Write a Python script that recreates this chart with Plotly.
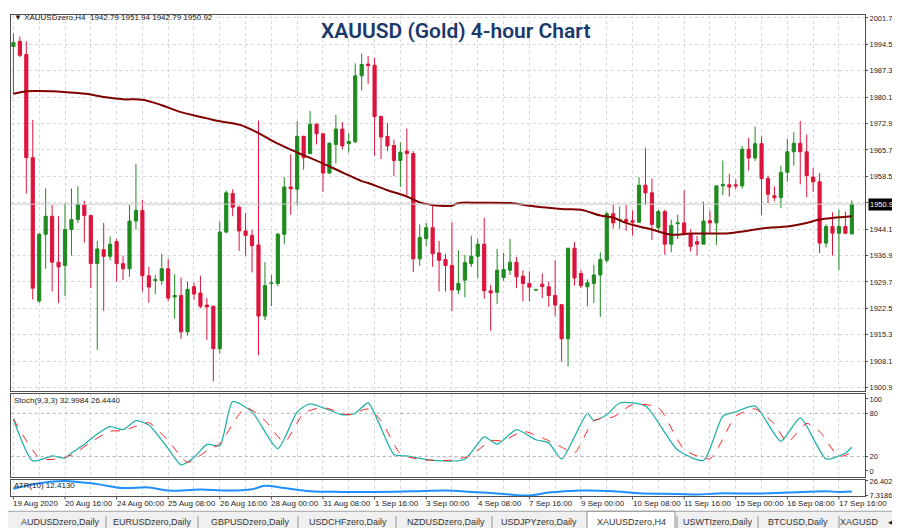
import plotly.graph_objects as go

# ---------------- data ----------------
opens = [1993.9,1995.3,1991.7,1963.6,1924.5,1942.7,1947.6,1935.1,1934.2,1944.0,1946.7,1950.7,1947.8,1934.7,1938.5,1936.7,1940.7,1934.7,1933.3,1946.3,
 1949.2,1931.4,1930.1,1930.1,1933.3,1925.6,1926.0,1916.1,1928.4,1926.7,1923.4,1923.1,1911.5,1943.3,1953.8,1950.1,1943.6,1942.4,1939.8,1920.4,
 1929.3,1929.3,1942.7,1955.6,1955.0,1969.4,1964.7,1972.7,1970.1,1959.4,1967.2,1971.4,1967.4,1967.9,1985.9,1989.1,1988.8,1974.8,1969.4,1966.9,
 1962.8,1965.4,1964.7,1936.0,1941.5,1944.5,1937.6,1935.8,1934.2,1927.5,1930.2,1934.7,1936.7,1940.0,1927.3,1926.9,1930.9,1932.9,1935.1,1931.3,
 1929.3,1927.5,1929.1,1928.4,1926.0,1923.5,1914.2,1938.9,1932.0,1928.4,1929.3,1931.6,1935.6,1948.3,1946.5,1946.7,1946.4,1946.0,1956.1,1954.0,
 1944.5,1948.9,1940.0,1945.6,1945.8,1942.7,1940.7,1940.0,1946.4,1945.8,1955.9,1956.2,1956.2,1955.9,1965.9,1963.5,1967.4,1957.9,1953.2,1952.7,
 1959.6,1965.2,1967.5,1965.2,1958.3,1957.0,1940.3,1944.8,1943.0,1944.8,1942.79]
highs = [1997.5,1996.6,1995.3,1973.9,1943.0,1955.2,1950.7,1947.6,1951.2,1955.2,1955.8,1951.8,1948.0,1940.9,1945.8,1942.1,1941.4,1936.9,1950.7,1961.9,
 1952.1,1933.8,1931.6,1937.4,1936.0,1931.8,1930.9,1929.8,1929.6,1931.4,1925.3,1923.1,1946.1,1954.6,1955.0,1950.5,1948.5,1943.9,1973.7,1935.1,
 1931.6,1943.1,1958.3,1964.5,1973.6,1969.6,1976.3,1973.0,1970.3,1967.8,1975.2,1973.3,1970.3,1989.3,1992.0,1991.3,1990.8,1975.1,1973.0,1968.5,
 1967.7,1971.5,1965.4,1945.4,1945.8,1950.7,1940.9,1937.4,1946.0,1938.4,1937.1,1942.3,1941.4,1947.2,1928.9,1938.7,1937.6,1941.4,1936.5,1932.9,
 1932.6,1927.8,1932.0,1929.8,1935.6,1923.6,1939.0,1940.6,1932.9,1930.4,1934.4,1937.8,1948.9,1950.7,1950.3,1950.7,1949.2,1958.3,1966.3,1957.9,
 1949.4,1949.4,1946.7,1948.0,1954.7,1944.0,1942.3,1951.6,1949.2,1955.9,1962.8,1959.2,1957.7,1966.8,1969.0,1972.1,1969.4,1958.7,1955.8,1961.4,
 1968.7,1970.6,1973.6,1969.9,1960.8,1959.4,1945.4,1948.7,1949.4,1948.9,1951.94]
lows = [1981.0,1991.0,1953.8,1924.9,1924.0,1933.3,1927.1,1924.0,1925.8,1936.9,1945.8,1940.5,1928.0,1911.2,1921.8,1935.6,1929.8,1930.2,1931.1,1944.0,
 1927.1,1924.0,1926.4,1928.9,1924.4,1919.7,1914.2,1915.1,1924.9,1922.5,1913.9,1902.6,1910.2,1943.0,1947.6,1938.2,1936.9,1932.3,1909.7,1919.3,
 1923.1,1928.6,1940.0,1948.0,1950.5,1960.3,1964.7,1967.2,1954.3,1959.2,1962.0,1965.9,1965.0,1967.6,1981.9,1983.7,1964.1,1963.2,1965.4,1958.5,
 1955.6,1953.4,1932.4,1934.1,1939.4,1933.8,1927.1,1927.1,1921.8,1926.4,1925.5,1933.8,1930.7,1925.1,1916.4,1923.7,1930.0,1931.6,1928.0,1924.4,
 1924.4,1927.3,1925.3,1922.9,1920.4,1907.9,1906.6,1928.7,1928.0,1923.1,1924.0,1920.2,1935.0,1944.3,1944.2,1943.6,1942.3,1946.0,1950.7,1941.2,
 1943.6,1937.1,1937.8,1941.4,1942.3,1938.0,1936.9,1940.0,1943.1,1939.8,1953.4,1953.0,1955.0,1955.2,1960.1,1962.7,1947.9,1951.3,1951.8,1949.8,
 1957.0,1961.4,1956.3,1952.8,1954.3,1937.6,1939.1,1936.9,1932.9,1942.7,1942.79]
closes = [1995.0,1991.5,1963.6,1928.0,1942.7,1947.6,1935.1,1933.8,1944.0,1946.7,1950.9,1947.8,1934.7,1938.7,1936.7,1940.0,1934.7,1933.3,1946.3,1949.2,
 1931.4,1928.3,1930.3,1933.3,1925.3,1926.0,1916.1,1927.7,1926.4,1923.1,1922.9,1911.5,1943.3,1954.0,1950.1,1943.6,1942.4,1939.6,1920.4,1928.7,
 1929.4,1942.7,1955.6,1955.1,1969.4,1963.6,1972.7,1970.1,1959.4,1967.5,1971.4,1966.8,1968.0,1985.9,1989.0,1988.7,1974.8,1969.2,1966.8,1962.8,
 1965.1,1964.7,1936.0,1941.8,1944.5,1937.4,1935.6,1934.2,1927.5,1929.3,1935.0,1936.7,1940.0,1927.3,1926.7,1932.9,1933.1,1935.1,1931.1,1929.3,
 1928.3,1927.6,1928.4,1926.0,1923.4,1914.2,1938.9,1930.8,1928.7,1929.5,1931.6,1935.8,1948.3,1945.8,1946.7,1946.2,1946.0,1956.1,1954.0,1945.4,
 1948.9,1940.0,1945.1,1945.8,1942.7,1939.4,1940.0,1946.3,1945.8,1955.9,1956.3,1955.6,1955.9,1965.9,1963.5,1967.4,1957.9,1953.6,1952.7,1959.6,
 1965.2,1967.5,1965.2,1958.7,1957.0,1940.3,1944.8,1943.0,1944.8,1943.0,1950.92]

ma_bars = [0,2,6,10,12,14,17,20,23,26,30,32,35,38,41,44,47,51,54,55,58,61,63,65,66,68,69,72,77,80,85,88,91,93,95,97,99,102,105,111,117,120,123,125,130]
ma_vals = [1981.0,1981.7,1981.7,1981.2,1980.8,1980.1,1979.5,1979.4,1977.9,1976.0,1974.3,1973.5,1972.6,1970.3,1967.4,1965.0,1962.8,1959.6,1957.2,1956.7,
 1954.7,1953.0,1951.4,1950.7,1950.5,1950.5,1951.2,1951.3,1951.2,1950.5,1949.6,1949.4,1947.8,1947.2,1945.8,1944.8,1944.0,1942.6,1942.9,1943.0,
 1944.5,1944.8,1945.8,1946.7,1947.6]

stoch_bars = [0,3,6,8,9,11,13,15,17,19,21,24,26,28,30,32,34,37,41,44,46,51,53,55,59,61,65,70,73,75,78,81,83,85,89,90,92,94,98,103,107,110,112,115,119,122,126,129,130]
stoch_main = [71.8,13.9,20.8,18,25,37,51.4,61.6,57.5,69.8,63.7,31,8.6,18.8,37,35,96.3,82,31,82,93,78,80,94.3,22.9,20.8,14.7,16.3,47.3,37,57.5,43.3,39,16.7,80,69.8,78,94.3,90.2,29,14.7,75.9,82,90.2,41.2,73.8,16.7,24.9,33]
sig_bars = [0,4,6,9,12,15,17,19,21,24,27,30,32,36,39,42,45,48,52,55,57,60,63,68,71,74,76,79,83,85,87,90,93,96,100,104,108,112,115,118,120,123,125,128,130]
stoch_sig = [72,18,16,22,40,55,56,62,67,42,12,28,38,88,70,40,80,88,78,86,70,24,16,15,22,42,42,55,42,33,25,70,75,92,88,30,17,76,86,65,40,66,55,20,26]

atr_bars = [0,4,8,13,17,21,24,29,33,37,39,42,46,51,56,62,67,71,76,80,83,88,93,97,103,106,110,115,120,126,128,130]
atr_vals = [16.2,23.4,26.4,22.2,17.1,17.9,13.7,15.0,13.7,15.4,20.0,17.1,12.8,12.0,12.0,12.8,13.7,12.0,9.4,7.3,11.1,13.7,12.8,10.3,9.4,8.6,10.3,9.8,11.1,12.8,12.0,12.4]

date_labels = ["19 Aug 2020","20 Aug 16:00","24 Aug 00:00","25 Aug 08:00","26 Aug 16:00","28 Aug 00:00","31 Aug 08:00","1 Sep 16:00",
 "3 Sep 00:00","4 Sep 08:00","7 Sep 16:00","9 Sep 00:00","10 Sep 08:00","11 Sep 16:00","15 Sep 00:00","16 Sep 08:00","17 Sep 16:00"]
price_ticks = [1900.90,1908.10,1915.30,1922.50,1929.70,1936.90,1944.10,1951.30,1958.50,1965.70,1972.90,1980.10,1987.30,1994.50,2001.70]
tabs = ["AUDUSDzero,Daily","EURUSDzero,Daily","GBPUSDzero,Daily","USDCHFzero,Daily","NZDUSDzero,Daily","USDJPYzero,Daily",
 "XAUUSDzero,H4","USWTIzero,Daily","BTCUSD,Daily","XAGUSD"]
last_price = 1950.92

# ---------------- figure ----------------
W, H = 900, 528
FONT = "Liberation Sans"
bars = list(range(len(opens)))
def py(p): return 1 - p / H

GREEN = "#1f8a1f"; RED = "#dc143c"
fig = go.Figure()
fig.add_trace(go.Candlestick(x=bars, open=opens, high=highs, low=lows, close=closes,
    increasing=dict(line=dict(color=GREEN, width=1), fillcolor=GREEN),
    decreasing=dict(line=dict(color=RED, width=1), fillcolor=RED),
    whiskerwidth=0, showlegend=False, xaxis="x", yaxis="y", hoverinfo="skip"))
fig.add_trace(go.Scatter(x=ma_bars, y=ma_vals, mode="lines", line=dict(color="#800000", width=2, shape="spline"),
    xaxis="x", yaxis="y", showlegend=False))
fig.add_trace(go.Scatter(x=stoch_bars, y=stoch_main, mode="lines", line=dict(color="#20b2aa", width=1.3, shape="spline", smoothing=0.6),
    xaxis="x2", yaxis="y2", showlegend=False))
fig.add_trace(go.Scatter(x=sig_bars, y=stoch_sig, mode="lines", line=dict(color="#ff2020", width=1, dash="dash", shape="spline", smoothing=0.6),
    xaxis="x2", yaxis="y2", showlegend=False))
fig.add_trace(go.Scatter(x=atr_bars, y=atr_vals, mode="lines", line=dict(color="#1e90ff", width=2, shape="spline"),
    xaxis="x3", yaxis="y3", showlegend=False))

XEND = 857
xr = [-0.42, (XEND - 2.7) / 6.47]
xd = [0.003, XEND / W]
vgrid = list(range(0, 133, 4))
common_x = dict(range=xr, domain=xd, showgrid=True, gridcolor="#d8d8d8", griddash="dot", gridwidth=1,
    tickvals=vgrid, showticklabels=False, zeroline=False, showline=True, linecolor="#505050", mirror=True,
    rangeslider=dict(visible=False), fixedrange=True)
common_y = dict(side="right", showgrid=True, gridcolor="#d8d8d8", griddash="dot", zeroline=False,
    showline=True, linecolor="#505050", mirror=True, ticks="outside", ticklen=2, tickcolor="#505050",
    tickfont=dict(family=FONT, size=7.5, color="#222"))

fig.update_layout(
    width=W, height=H, margin=dict(l=0, r=0, t=0, b=0), paper_bgcolor="white", plot_bgcolor="white",
    xaxis=dict(**common_x, anchor="y"),
    xaxis2=dict(**common_x, anchor="y2", matches="x"),
    xaxis3=dict(**common_x, anchor="y3", matches="x"),
    yaxis=dict(**common_y, domain=[py(385), py(4)], range=[1900.0, 2002.5], tickvals=price_ticks,
               ticktext=[f"{v:.2f}" for v in price_ticks], anchor="x"),
    yaxis2=dict(**common_y, domain=[py(472), py(388)], range=[-8, 107], tickvals=[0, 20, 80, 100], anchor="x2"),
    yaxis3=dict(**common_y, domain=[py(492), py(475)], range=[6.0, 28.0], tickvals=[7.3186, 26.4025],
               ticktext=["7.3186", "26.4025"], anchor="x3"),
    font=dict(family=FONT),
)
fig.layout.yaxis2.showgrid = False
fig.layout.yaxis3.showgrid = False

shapes = []
for lv in (20, 80):
    shapes.append(dict(type="line", xref="x2", yref="y2", x0=xr[0], x1=xr[1], y0=lv, y1=lv,
                       line=dict(color="#b0b0b0", width=1, dash="dot")))
shapes.append(dict(type="line", xref="x", yref="y", x0=xr[0], x1=xr[1], y0=last_price, y1=last_price,
                   line=dict(color="#c8c8c8", width=1)))
shapes.append(dict(type="rect", xref="paper", yref="paper", x0=0, x1=1, y0=0, y1=py(507),
                   fillcolor="#f0f0f0", line=dict(width=0), layer="below"))
shapes.append(dict(type="line", xref="paper", yref="paper", x0=0, x1=1, y0=py(507), y1=py(507),
                   line=dict(color="#a0a0a0", width=1)))

ann = []
ann.append(dict(text="XAUUSD (Gold) 4-hour Chart", x=447 / W, y=py(20), xref="paper", yref="paper",
                showarrow=False, font=dict(family="Roboto", size=21, color="#1b3a6b", weight=600),
                xanchor="center", yanchor="middle"))
ann.append(dict(text="▼ XAUUSDzero,H4  1942.79 1951.94 1942.79 1950.92", x=4 / W, y=py(7), xref="paper", yref="paper",
                showarrow=False, font=dict(family=FONT, size=8, color="#222"), xanchor="left", yanchor="middle"))
ann.append(dict(text="Stoch(9,3,3) 32.9984 26.4440", x=4 / W, y=py(395), xref="paper", yref="paper",
                showarrow=False, font=dict(family=FONT, size=8, color="#222"), xanchor="left", yanchor="middle"))
ann.append(dict(text="ATR(10) 12.4130", x=4 / W, y=py(481), xref="paper", yref="paper",
                showarrow=False, font=dict(family=FONT, size=8, color="#222"), xanchor="left", yanchor="middle"))
ann.append(dict(text=f"{last_price:.2f}", x=(XEND + 3) / W, y=last_price, xref="paper", yref="y", showarrow=False,
                font=dict(family=FONT, size=7.5, color="white"), bgcolor="black", xanchor="left", yanchor="middle",
                borderpad=1))
for i, lab in enumerate(date_labels):
    ann.append(dict(text=lab, x=8 * i - 0.3, y=py(499), xref="x3", yref="paper", showarrow=False,
                    font=dict(family=FONT, size=8, color="#222"), xanchor="left", yanchor="middle"))
    shapes.append(dict(type="line", xref="x3", yref="paper", x0=8 * i, x1=8 * i, y0=py(492), y1=py(495),
                       line=dict(color="#505050", width=1)))
tab_centers = [52, 144, 242, 340, 438, 531, 623, 710, 790, 851]
seps = [98, 190, 290, 388, 484, 669, 750, 831]
shapes.append(dict(type="rect", xref="paper", yref="paper", x0=579 / W, x1=667 / W, y0=0, y1=py(507),
                   fillcolor="white", line=dict(color="#909090", width=1), layer="below"))
for t, cx in zip(tabs, tab_centers):
    ann.append(dict(text=t, x=cx / W, y=py(518), xref="paper", yref="paper", showarrow=False,
                    font=dict(family=FONT, size=9, color="#333"), xanchor="center", yanchor="middle"))
for s in seps:
    shapes.append(dict(type="line", xref="paper", yref="paper", x0=s / W, x1=s / W, y0=py(512), y1=py(524),
                       line=dict(color="#909090", width=1)))
ann.append(dict(text="◂ ▸", x=886 / W, y=py(518), xref="paper", yref="paper", showarrow=False,
                font=dict(family="DejaVu Sans", size=9, color="#222"), xanchor="center", yanchor="middle"))
fig.update_layout(annotations=ann, shapes=shapes)

fig.write_html("out.html")
